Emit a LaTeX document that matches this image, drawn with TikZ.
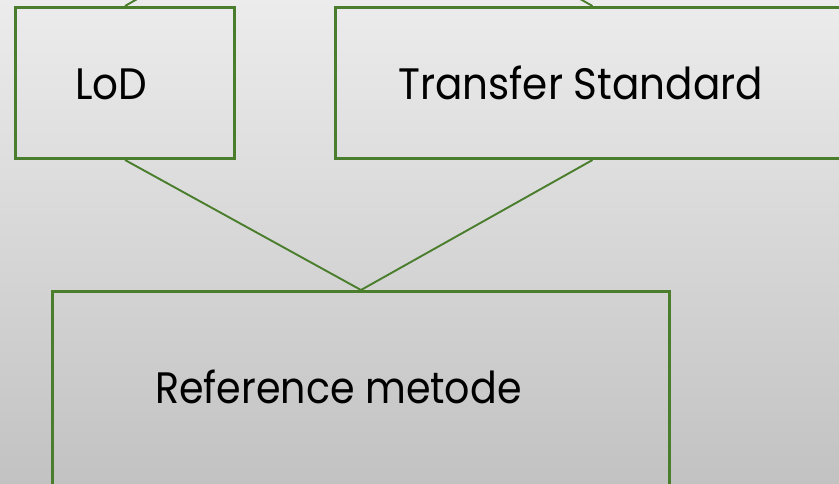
\documentclass[tikz,border=0pt]{standalone}
\usepackage{fontspec}
\setmainfont{Poppins}
\definecolor{boxgreen}{RGB}{74,125,44}
\definecolor{bgtop}{RGB}{236,236,236}
\definecolor{bgbottom}{RGB}{194,194,194}
\tikzset{
  boxnode/.style={draw=boxgreen, line width=3pt, rectangle, inner sep=0pt, anchor=north west},
  link/.style={draw=boxgreen, line width=1.9pt},
  labeltext/.style={font=\fontsize{44}{44}\selectfont, text=black, inner sep=0pt, anchor=base west}
}
\begin{document}
\begin{tikzpicture}[x=1pt,y=-1pt]
  \useasboundingbox (0,0) rectangle (839,484);
  \shade[top color=bgtop, bottom color=bgbottom] (0,0) rectangle (839,484);
  \clip (0,0) rectangle (839,484);
  % hidden parent above the top row
  \coordinate (top) at (357,-127);
  % boxes
  \node[boxnode, minimum width=219pt, minimum height=151pt] (lod) at (14,6) {};
  \node[boxnode, minimum width=514pt, minimum height=151pt] (transfer) at (334,6) {};
  \node[boxnode, minimum width=617pt, minimum height=198pt] (ref) at (51,290) {};
  % connectors
  \draw[link] (top) -- (lod.north);
  \draw[link] (top) -- (transfer.north);
  \draw[link] (lod.south) -- (ref.north);
  \draw[link] (transfer.south) -- (ref.north);
  % labels
  \node[labeltext] (lodtext) at (75,100) {\scalebox{0.92}[1]{LoD}};
  \node[labeltext] (transfertext) at (398,100) {\scalebox{0.92}[1]{Transfer Standard}};
  \node[labeltext] (reftext) at (155,403) {\scalebox{0.9}[1]{Reference metode}};
\end{tikzpicture}
\end{document}
